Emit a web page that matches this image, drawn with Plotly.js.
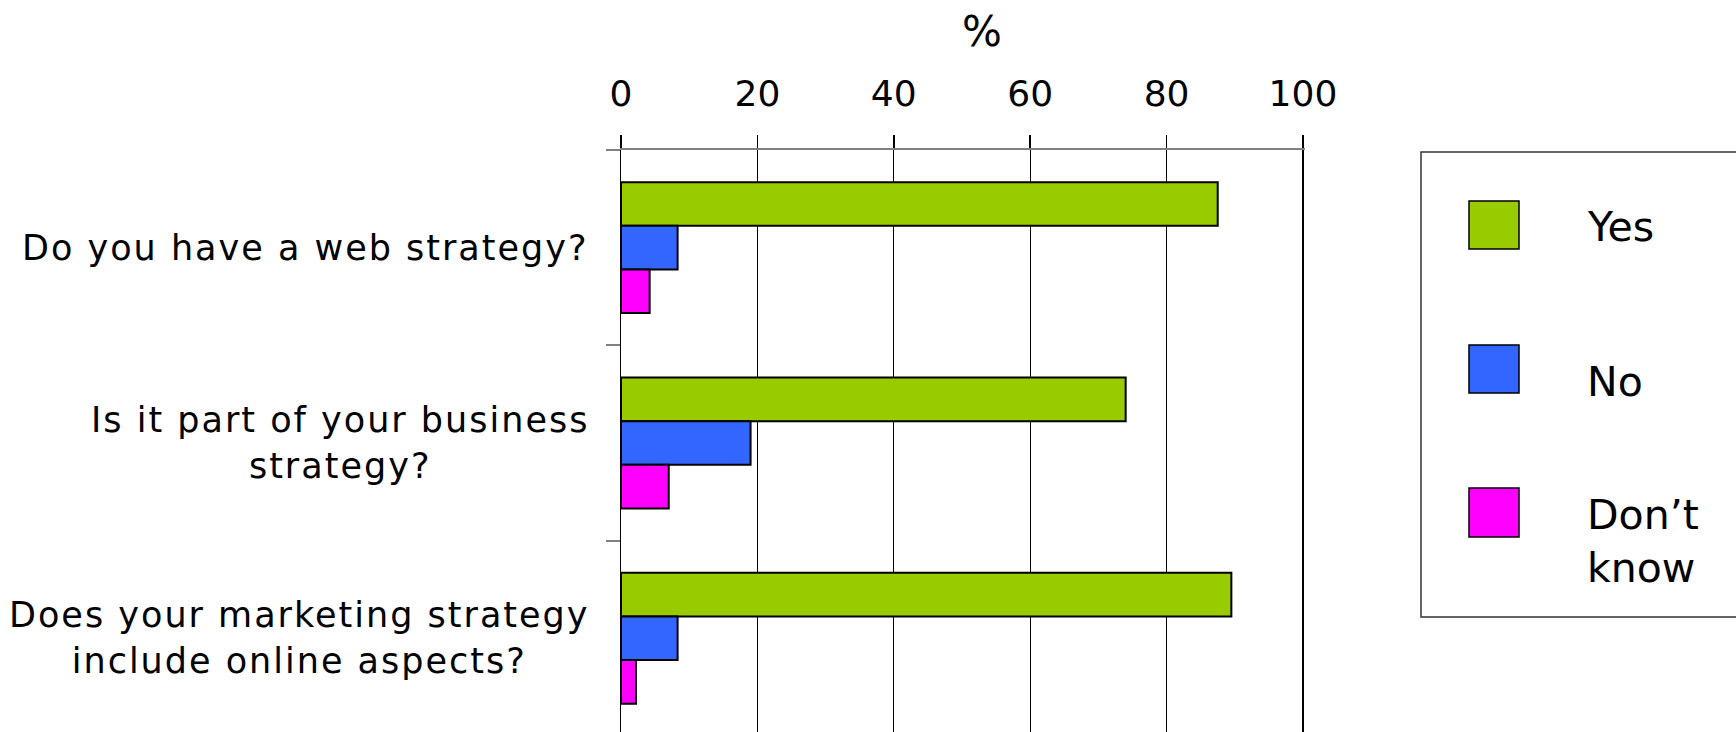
<!DOCTYPE html>
<html>
<head>
<meta charset="utf-8">
<script src="https://cdn.plot.ly/plotly-3.0.1.min.js"></script>
<style>
  html, body { margin: 0; padding: 0; background: #ffffff; }
  #chart { width: 1736px; height: 732px; }
  /* the question labels are set with a little extra tracking */
  g.annotation[data-index="0"] text,
  g.annotation[data-index="1"] text,
  g.annotation[data-index="2"] text { letter-spacing: 2px; }
</style>
</head>
<body>
<div id="chart"></div>
<script>
// Survey questions (y categories) and their displayed labels
const questions = [
  "Do you have a web strategy?",
  "Is it part of your business strategy?",
  "Does your marketing strategy include online aspects?"
];
const questionLabels = [
  "Do you have a web strategy?",
  "Is it part of your business<br>strategy?",
  "Does your marketing strategy<br>include online aspects?"
];

// Share of answers, %
const yesValues      = [87.5, 74.0, 89.5];
const noValues       = [8.3, 19.0, 8.3];
const dontKnowValues = [4.2, 7.0, 2.2];

const seriesNames  = ["Yes", "No", "Don\u2019t<br>know"];
const seriesValues = [yesValues, noValues, dontKnowValues];
const seriesColors = ["#99CC00", "#3366FF", "#FF00FF"];

const axisTitle = "%";
const xMax = 100.3;   // a hair past 100 so the 100 grid line is kept

// Plot area in pixels; helpers turn pixel positions into paper fractions
const W = 1736, H = 732;
const L = 621, T = 150, B = 732;
const unitPx = 6.82;
const R = Math.round(L + xMax * unitPx);
const px = x => (x - L) / (R - L);
const py = y => (B - y) / (B - T);

const traces = seriesValues.map((vals, i) => ({
  type: "bar",
  orientation: "h",
  name: seriesNames[i],
  x: vals,
  y: questions,
  marker: { color: seriesColors[i], line: { color: "#000000", width: 2 } },
  hoverinfo: "skip"
}));

// Question labels, centred line by line, right-aligned against the axis
const questionAnnotations = questions.map((q, i) => ({
  xref: "paper", yref: "y",
  x: px(564), y: q,
  xanchor: "right", yanchor: "middle",
  align: "center",
  text: questionLabels[i],
  showarrow: false,
  font: { family: "DejaVu Sans", size: 35, color: "#000000" }
}));

// Hand-built legend: framed box with large swatches
const legendRows = [
  { sq: [201, 249], textY: 227 },
  { sq: [345, 393], textY: 382 },
  { sq: [488, 537], textY: 541 }
];
const legendShapes = [{
  type: "rect", xref: "paper", yref: "paper",
  x0: px(1421), x1: px(1760), y0: py(617), y1: py(152),
  line: { color: "#333333", width: 1.5 }, fillcolor: "rgba(0,0,0,0)"
}].concat(legendRows.map((r, i) => ({
  type: "rect", xref: "paper", yref: "paper",
  x0: px(1469), x1: px(1519), y0: py(r.sq[1]), y1: py(r.sq[0]),
  line: { color: "#000000", width: 1.5 }, fillcolor: seriesColors[i]
})));
const legendAnnotations = legendRows.map((r, i) => ({
  xref: "paper", yref: "paper",
  x: px(1585), y: py(r.textY),
  xanchor: "left", yanchor: "middle",
  align: "left",
  text: seriesNames[i],
  showarrow: false,
  font: { family: "DejaVu Sans", size: 41, color: "#000000" }
}));

// Unit label above the value axis
const titleAnnotation = {
  xref: "paper", yref: "paper",
  x: px(982), y: py(31),
  xanchor: "center", yanchor: "middle",
  text: axisTitle,
  showarrow: false,
  font: { family: "DejaVu Sans", size: 42, color: "#000000" }
};

const layout = {
  width: W, height: H,
  margin: { l: L, r: W - R, t: T, b: H - B, pad: 0 },
  paper_bgcolor: "#ffffff",
  plot_bgcolor: "#ffffff",
  font: { family: "DejaVu Sans", color: "#000000" },
  showlegend: false,
  barmode: "group",
  bargap: 0.33,
  bargroupgap: 0,
  xaxis: {
    side: "top",
    range: [0, xMax],
    tick0: 0, dtick: 20,
    ticks: "outside", ticklen: 13, tickwidth: 1.5, tickcolor: "#000000",
    ticklabelstandoff: 15,
    showgrid: true, gridcolor: "#000000", gridwidth: 1.3,
    showline: true, linecolor: "#808080", linewidth: 2,
    zeroline: false,
    tickfont: { family: "DejaVu Sans", size: 36, color: "#000000" },
    fixedrange: true
  },
  yaxis: {
    type: "category",
    categoryorder: "array",
    categoryarray: questions,
    range: [2.48, -0.5],
    tickson: "boundaries",
    ticks: "outside", ticklen: 14, tickwidth: 2, tickcolor: "#808080",
    showticklabels: false,
    showgrid: false,
    showline: true, linecolor: "#000000", linewidth: 1.5,
    zeroline: false,
    fixedrange: true
  },
  annotations: questionAnnotations.concat(legendAnnotations, [titleAnnotation]),
  shapes: legendShapes
};

Plotly.newPlot("chart", traces, layout, { displayModeBar: false, staticPlot: true });
</script>
</body>
</html>
